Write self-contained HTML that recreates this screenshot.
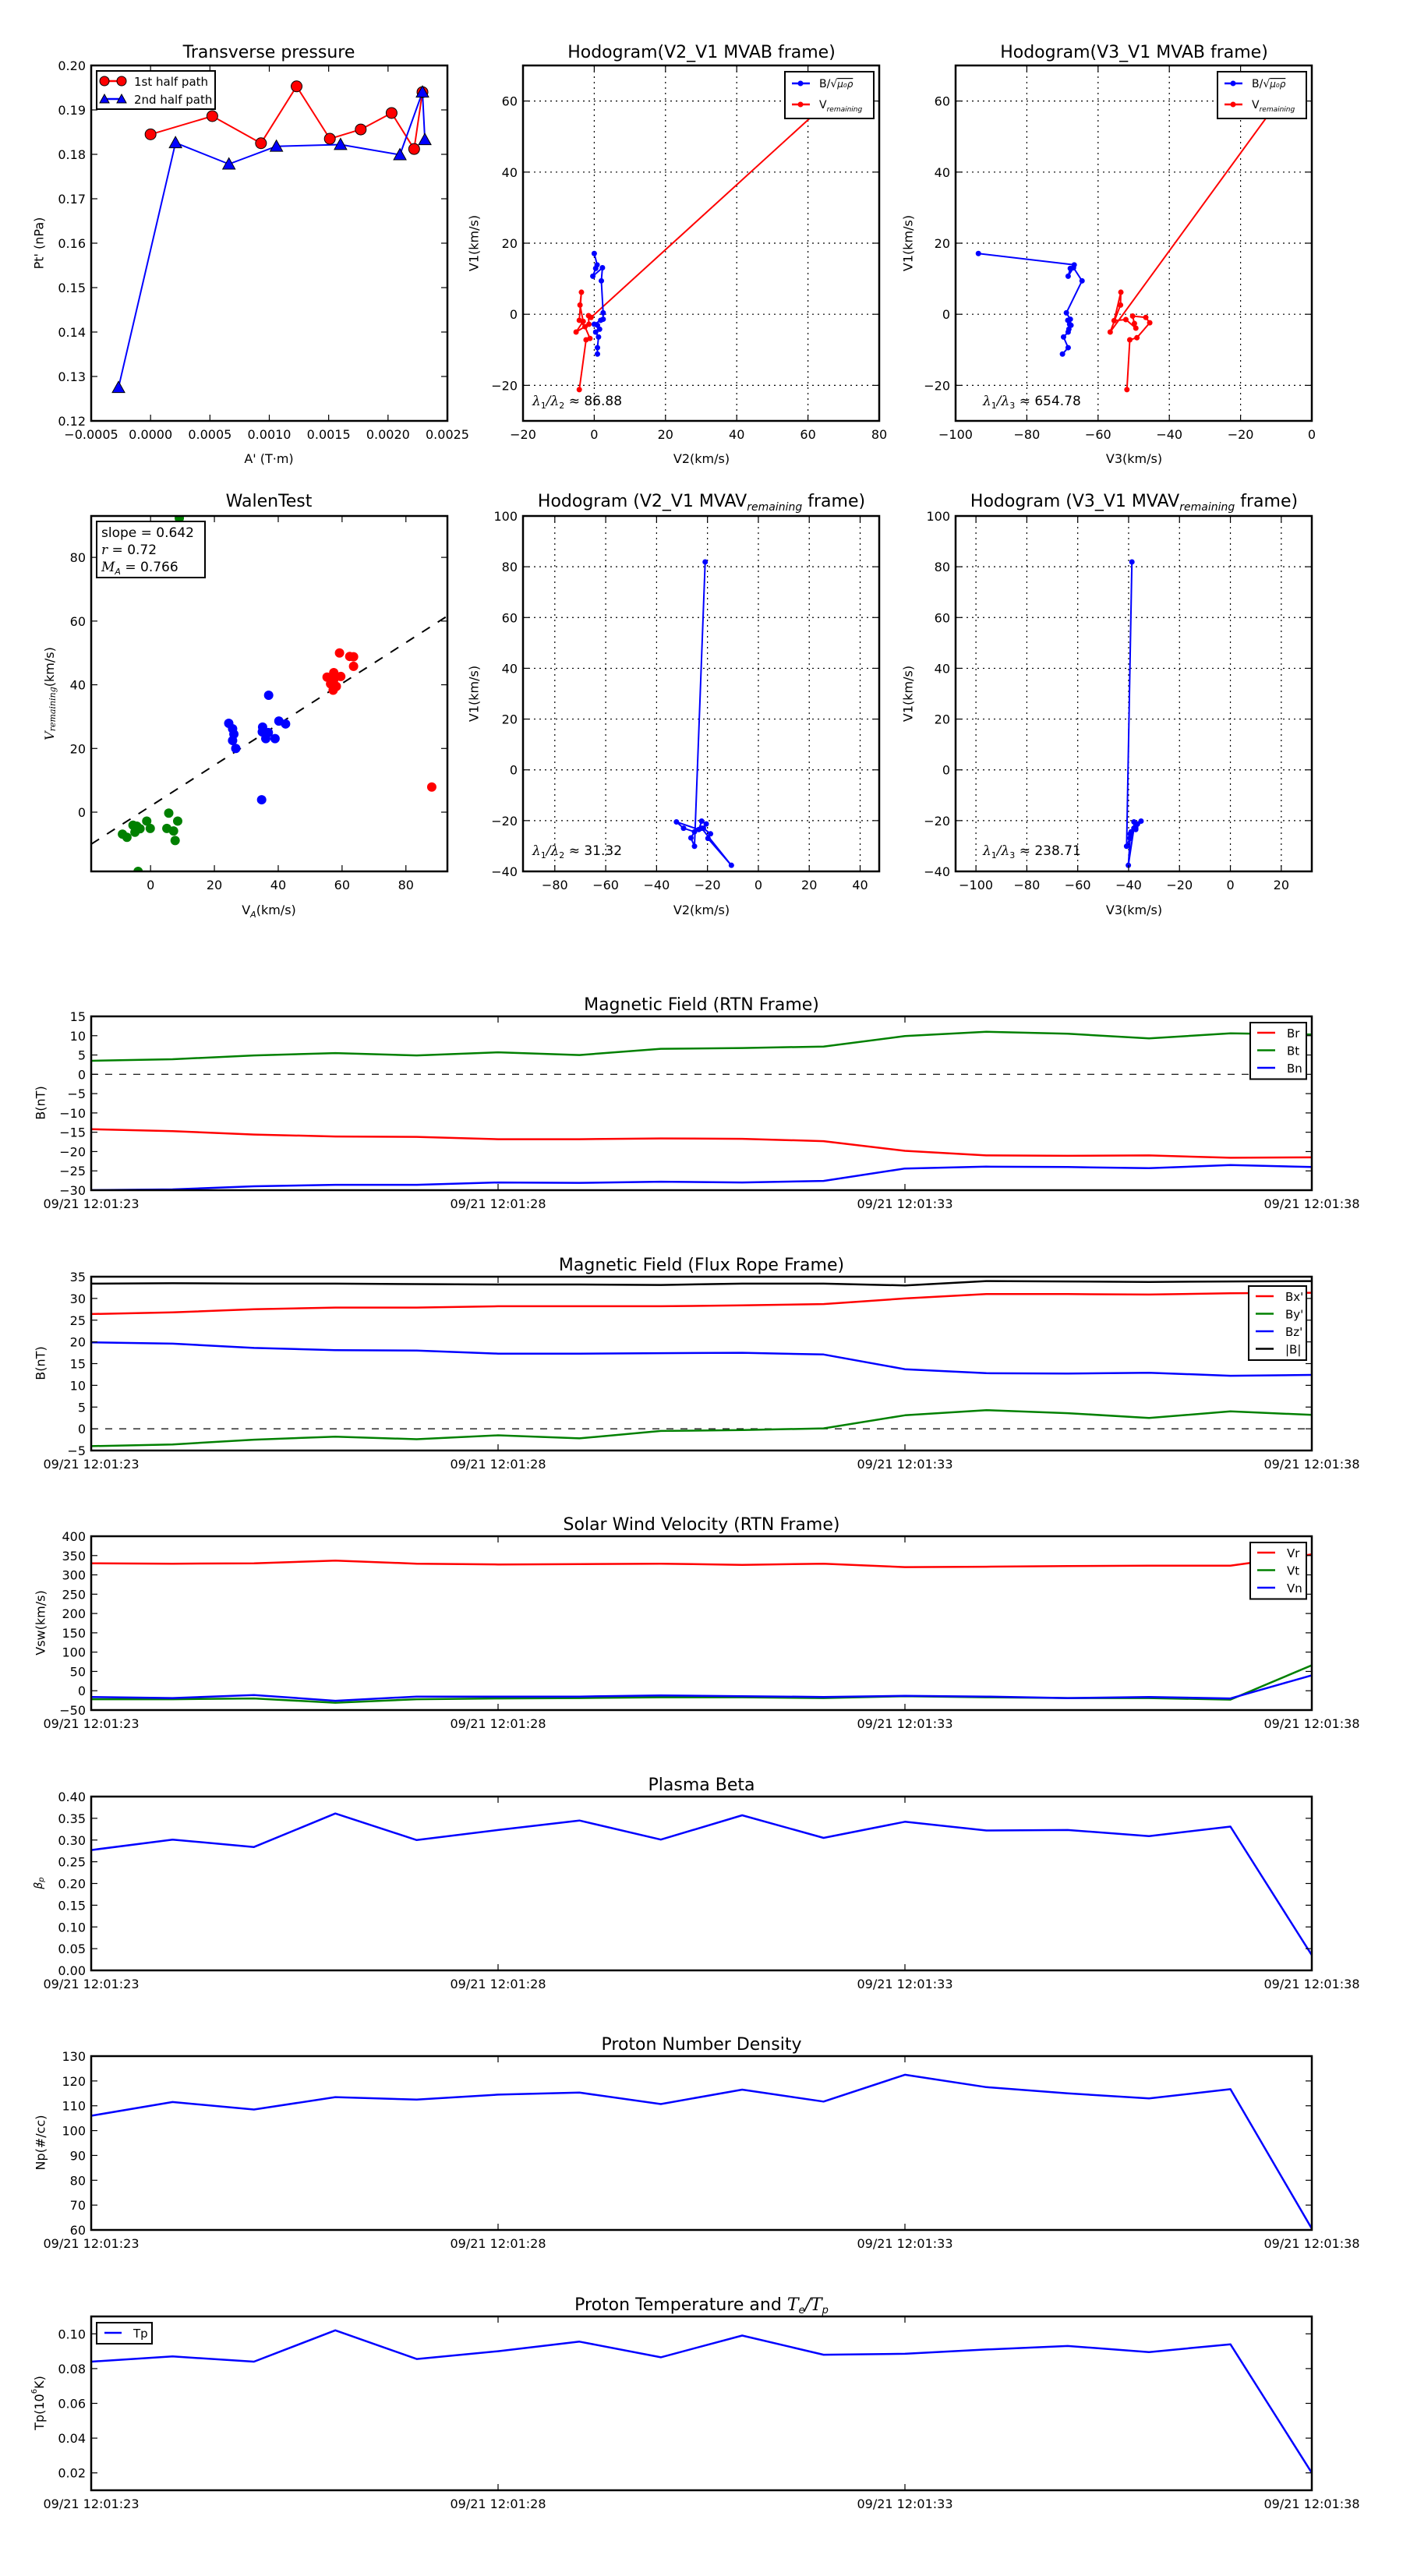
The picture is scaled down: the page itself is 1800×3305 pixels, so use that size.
<!DOCTYPE html>
<html><head><meta charset="utf-8">
<style>
html,body{margin:0;padding:0;background:#fff;}
svg text{font-family:"DejaVu Sans","Liberation Sans",sans-serif;fill:#000;}
</style></head>
<body>
<svg id="fig" width="1800" height="3300" viewBox="0 0 1800 3300" xmlns="http://www.w3.org/2000/svg">
<rect x="0" y="0" width="1800" height="3300" fill="#fff"/>
</svg>
<script>
// ---------- data ----------
// Transverse pressure
const tp1A  = [0.0, 0.00052, 0.00093, 0.00123, 0.00151, 0.00177, 0.00203, 0.00222, 0.00229];
const tp1Pt = [0.1845, 0.1886, 0.1825, 0.1953, 0.1835, 0.1856, 0.1893, 0.1812, 0.1940];
const tp2A  = [-0.00027, 0.00021, 0.00066, 0.00106, 0.00160, 0.00210, 0.00229, 0.00231];
const tp2Pt = [0.1275, 0.1826, 0.1778, 0.1818, 0.1822, 0.1799, 0.1940, 0.1833];
// Hodogram MVAB (B/sqrt(mu0 rho))
const hbV1 = [17.1, 13.9, 12.9, 10.7, 13.1, 9.4, 0.4, -1.4, -1.7, -2.8, -3.1, -4.2, -5.0, -6.4, -9.4, -11.2];
const hbV2 = [0.0, 0.8, 0.4, -0.4, 2.3, 2.0, 2.5, 2.5, 1.8, 0.0, 0.9, 1.5, 0.4, 1.2, 0.9, 0.9];
const hbV3 = [-93.6, -66.7, -67.8, -68.4, -66.9, -64.5, -68.9, -67.8, -68.5, -68.0, -67.6, -68.2, -68.4, -69.7, -68.4, -70.0];
// Hodogram MVAB (V remaining)
const hvV1a = [-21.2, -7.2, -6.8, -3.5, -1.7, 6.2, 2.6, -2.0, -5.0, -2.8, -0.4, -0.9, 62];
const hvV2  = [-4.2, -2.3, -1.2, -2.6, -4.2, -3.6, -4.0, -3.1, -5.1, -1.5, -1.6, -0.9, 68];
const hvV1b = [-21.2, -7.2, -6.6, -2.4, -0.9, -0.5, -2.6, -3.9, -1.5, -1.8, 6.2, 2.6, -5.0, 66];
const hvV3  = [-51.9, -51.1, -49.1, -45.5, -46.6, -50.3, -49.8, -49.4, -52.2, -55.5, -53.6, -53.7, -56.6, -5];
// Walen test
const wGx = [9.0, -8.8, -7.4, -5.5, -4.3, -4.9, -3.3, -1.2, -0.1, 5.7, 5.1, 7.2, 8.5, 7.7, -3.9];
const wGy = [92.3, -6.9, -7.9, -4.1, -4.4, -6.3, -5.2, -2.8, -5.1, -0.3, -5.1, -5.9, -2.8, -8.9, -18.6];
const wBx = [37.0, 24.5, 25.7, 26.1, 25.7, 26.7, 35.1, 35.0, 36.9, 36.1, 39.0, 40.2, 42.3, 34.8];
const wBy = [36.7, 27.9, 26.2, 24.5, 22.5, 20.0, 26.7, 25.2, 25.0, 23.1, 23.1, 28.6, 27.7, 3.9];
const wRx = [59.2, 62.4, 63.6, 63.6, 55.3, 57.4, 59.6, 56.4, 57.4, 58.2, 57.2, 88.1];
const wRy = [50.0, 48.9, 48.8, 45.8, 42.4, 43.8, 42.6, 40.3, 41.6, 39.5, 38.3, 7.9];
const walenSlope = 0.642;
const walenIntercept = 1.9;
// Hodogram MVAV remaining
const hrV1 = [81.9, -30.1, -26.8, -24.4, -23.0, -20.5, -23.5, -20.2, -21.3, -23.0, -25.2, -27.0, -37.6, -23.0];
const hrV2 = [-20.9, -25.1, -26.5, -25.1, -29.4, -32.2, -23.4, -22.3, -20.5, -21.6, -18.8, -19.8, -10.6, -22.3];
const hrV3 = [-38.7, -40.8, -39.4, -39.0, -37.9, -37.9, -37.2, -35.1, -36.5, -37.2, -39.4, -39.4, -40.1, -37.9];
// Time series
const tSec = [0,1,2,3,4,5,6,7,8,9,10,11,12,13,14,15];
const timeTickSec = [0,5,10,15];
const timeTickLabels = ['09/21 12:01:23','09/21 12:01:28','09/21 12:01:33','09/21 12:01:38'];
const Br = [-14.2,-14.7,-15.6,-16.1,-16.2,-16.8,-16.8,-16.6,-16.7,-17.3,-19.8,-21.0,-21.1,-21.0,-21.6,-21.5];
const Bt = [3.5,3.9,4.9,5.5,4.9,5.7,5.0,6.6,6.8,7.2,9.9,11.0,10.5,9.3,10.6,10.3];
const Bn = [-30.0,-29.8,-29.0,-28.6,-28.6,-28.0,-28.1,-27.8,-28.0,-27.6,-24.4,-23.9,-24.0,-24.3,-23.5,-24.0];
const Bmag = [33.4,33.5,33.4,33.4,33.3,33.2,33.2,33.1,33.4,33.4,33.0,34.0,33.9,33.8,33.9,34.0];
const Bxp = [26.4,26.8,27.5,27.9,27.9,28.2,28.2,28.2,28.4,28.7,30.0,31.0,31.0,30.9,31.2,31.3];
const Byp = [-4.0,-3.6,-2.5,-1.8,-2.4,-1.5,-2.2,-0.5,-0.3,0.1,3.1,4.3,3.6,2.5,4.0,3.2];
const Bzp = [19.9,19.6,18.6,18.1,18.0,17.3,17.3,17.4,17.5,17.1,13.7,12.8,12.7,12.9,12.2,12.4];
const Vr = [330,329,330,337,329,327,328,329,326,329,320,321,323,324,324,353];
const Vt = [-22,-22,-20,-31,-22,-20,-19,-17,-17,-19,-14,-17,-19,-19,-23,66];
const Vn = [-16,-19,-11,-26,-15,-15,-15,-12,-14,-16,-13,-15,-19,-16,-20,40];
const beta = [0.277,0.301,0.284,0.361,0.300,0.323,0.345,0.301,0.357,0.305,0.342,0.322,0.323,0.309,0.331,0.035];
const Np = [106,111.5,108.5,113.5,112.5,114.5,115.3,110.7,116.5,111.7,122.5,117.5,115,113,116.7,60.5];
const Tp = [0.084,0.087,0.084,0.102,0.0855,0.090,0.0955,0.0865,0.099,0.088,0.0885,0.091,0.093,0.0895,0.094,0.020];

// ---------- helpers ----------
const NS = 'http://www.w3.org/2000/svg';
const svg = document.getElementById('fig');
let clipN = 0;
function mk(tag, attrs, parent) {
  const e = document.createElementNS(NS, tag);
  for (const k in attrs) e.setAttribute(k, attrs[k]);
  (parent || svg).appendChild(e);
  return e;
}
function txt(parent, x, y, s, size, anchor, nm) {
  const t = mk('text', {x: x, y: y, 'font-size': size, 'text-anchor': anchor || 'middle'}, parent);
  t.textContent = s;
  
  
  return t;
}
function fmtMinus(s) { return String(s).replace('-', '\u2212'); }
function range(a, b, st) { const r = []; for (let v = a; v <= b + st * 1e-6; v += st) r.push(Math.round(v / st) * st); return r; }

function axes(o) {
  const g = mk('g', {});
  
  
  const sx = v => o.L + (v - o.xmin) / (o.xmax - o.xmin) * (o.R - o.L);
  const sy = v => o.B - (v - o.ymin) / (o.ymax - o.ymin) * (o.B - o.T);
  const id = 'clip' + (clipN++);
  const cp = mk('clipPath', {id: id}, g);
  mk('rect', {x: o.L, y: o.T, width: o.R - o.L, height: o.B - o.T}, cp);
  const xt = o.xticks.filter(v => v >= o.xmin - 1e-9 && v <= o.xmax + 1e-9);
  const yt = o.yticks.filter(v => v >= o.ymin - 1e-9 && v <= o.ymax + 1e-9);
  if (o.grid) {
    xt.forEach(v => { const l = mk('line', {x1: sx(v), x2: sx(v), y1: o.T, y2: o.B, stroke: '#000', 'stroke-width': 1.2, 'stroke-dasharray': '2,5'}, g);
        });
    yt.forEach(v => { const l = mk('line', {x1: o.L, x2: o.R, y1: sy(v), y2: sy(v), stroke: '#000', 'stroke-width': 1.2, 'stroke-dasharray': '2,5'}, g);
        });
  }
  const body = mk('g', {'clip-path': 'url(#' + id + ')'}, g);
  
  
  xt.forEach((v, i) => {
    mk('line', {x1: sx(v), x2: sx(v), y1: o.B, y2: o.B - 8, stroke: '#000', 'stroke-width': 1.2}, g);
    mk('line', {x1: sx(v), x2: sx(v), y1: o.T, y2: o.T + 8, stroke: '#000', 'stroke-width': 1.2}, g);
    const lab = o.xlabels ? o.xlabels[i] : o.xfmt(v);
    txt(g, sx(v), o.B + 23, lab, 16, 'middle', 'x-tick-label');
  });
  yt.forEach(v => {
    mk('line', {x1: o.L, x2: o.L + 8, y1: sy(v), y2: sy(v), stroke: '#000', 'stroke-width': 1.2}, g);
    mk('line', {x1: o.R, x2: o.R - 8, y1: sy(v), y2: sy(v), stroke: '#000', 'stroke-width': 1.2}, g);
    txt(g, o.L - 7, sy(v) + 6, o.yfmt(v), 16, 'end', 'y-tick-label');
  });
  return {sx: sx, sy: sy, g: g, body: body, o: o,
    finish: function () {
      const f = mk('rect', {x: o.L, y: o.T, width: o.R - o.L, height: o.B - o.T, fill: 'none', stroke: '#000', 'stroke-width': 2.5}, g);
      
      
    }};
}
function polyline(ax, xs, ys, color, w, nm) {
  const pts = xs.map((x, i) => ax.sx(x).toFixed(1) + ',' + ax.sy(ys[i]).toFixed(1)).join(' ');
  const p = mk('polyline', {points: pts, fill: 'none', stroke: color, 'stroke-width': w, 'stroke-linejoin': 'round'}, ax.body);
  
  
  return p;
}
function dots(ax, xs, ys, color, r, nm, strokeC) {
  xs.forEach((x, i) => {
    const c = mk('circle', {cx: ax.sx(x), cy: ax.sy(ys[i]), r: r, fill: color, stroke: strokeC || 'none', 'stroke-width': 1}, ax.body);
    
    
  });
}
function tris(ax, xs, ys, color, s, nm) {
  xs.forEach((x, i) => {
    const cx = ax.sx(x), cy = ax.sy(ys[i]);
    const p = mk('polygon', {points: (cx) + ',' + (cy - s) + ' ' + (cx - s) + ',' + (cy + s * 0.8) + ' ' + (cx + s) + ',' + (cy + s * 0.8), fill: color, stroke: '#000', 'stroke-width': 1}, ax.body);
    
    
  });
}
function title(x, y, parts, nm) {
  const t = mk('text', {x: x, y: y, 'font-size': 22, 'text-anchor': 'middle'});
  
  
  parts.forEach(p => {
    const s = mk('tspan', p.sub ? {'font-size': 14, 'font-style': 'italic', dy: 5} : (p.after ? {dy: -5} : {}), t);
    s.textContent = p.t;
  });
  return t;
}
function ylabel(x, y, s, nm) {
  const t = mk('text', {x: x, y: y, 'font-size': 16, 'text-anchor': 'middle', transform: 'rotate(-90 ' + x + ' ' + y + ')', 'dominant-baseline': 'central'});
  t.textContent = s;
  
  
  return t;
}
function box(x, y, w, h, nm) {
  const r = mk('rect', {x: x, y: y, width: w, height: h, fill: '#fff', stroke: '#000', 'stroke-width': 2});
  
  
}
function legLine(x1, x2, y, color, nm) {
  const l = mk('line', {x1: x1, x2: x2, y1: y, y2: y, stroke: color, 'stroke-width': 2.5});
  
  
}
function ratioText(x, y, a, b, val, nm) {
  const t = mk('text', {x: x, y: y, 'font-size': 17, 'text-anchor': 'start'});
  
  
  const s1 = mk('tspan', {'font-style': 'italic', 'font-family': 'DejaVu Serif, serif'}, t); s1.textContent = '\u03bb';
  const s2 = mk('tspan', {'font-size': 11, dy: 4}, t); s2.textContent = a;
  const s3 = mk('tspan', {'font-style': 'italic', dy: -4, 'font-family': 'DejaVu Serif, serif'}, t); s3.textContent = '/\u03bb';
  const s4 = mk('tspan', {'font-size': 11, dy: 4}, t); s4.textContent = b;
  const s5 = mk('tspan', {dy: -4}, t); s5.textContent = ' \u2248 ' + val;
}
const f2 = v => fmtMinus(v.toFixed(2));
const f0 = v => fmtMinus(v.toFixed(0));

// ---------- Row 1 ----------
const axTP = axes({name: 'transverse-pressure-chart', L: 117, R: 574, T: 84, B: 540, xmin: -0.0005, xmax: 0.0025, ymin: 0.12, ymax: 0.20,
  xticks: range(-0.0005, 0.0025, 0.0005), yticks: range(0.12, 0.20, 0.01), xfmt: v => fmtMinus(v.toFixed(4)), yfmt: f2});
polyline(axTP, tp1A, tp1Pt, '#f00', 2, 'first-half-path-line');
polyline(axTP, tp2A, tp2Pt, '#00f', 2, 'second-half-path-line');
dots(axTP, tp1A, tp1Pt, '#f00', 7, 'first-half-path-point', '#000');
tris(axTP, tp2A, tp2Pt, '#00f', 8, 'second-half-path-point');
axTP.finish();
title(345, 74, [{t: 'Transverse pressure'}], 'transverse-pressure-title');
txt(svg, 345, 594, "A' (T\u00b7m)", 16, 'middle', 'x-axis-title');
ylabel(50, 312, "Pt' (nPa)", 'y-axis-title');
box(124, 91, 152, 49, 'pressure-legend');
legLine(134, 156, 104, '#f00', 'legend-line-first');
mk('circle', {cx: 134, cy: 104, r: 6, fill: '#f00', stroke: '#000'}); mk('circle', {cx: 156, cy: 104, r: 6, fill: '#f00', stroke: '#000'});
legLine(134, 156, 127, '#00f', 'legend-line-second');
mk('polygon', {points: '134,121 128,132 140,132', fill: '#00f', stroke: '#000'}); mk('polygon', {points: '156,121 150,132 162,132', fill: '#00f', stroke: '#000'});
txt(svg, 172, 110, '1st half path', 15, 'start', 'legend-entry-first');
txt(svg, 172, 133, '2nd half path', 15, 'start', 'legend-entry-second');

function hodoLegend(x, nm) {
  box(x, 92, 114, 60, nm);
  legLine(x + 9, x + 32, 107, '#00f', 'legend-line-b');
  mk('circle', {cx: x + 20, cy: 107, r: 3.5, fill: '#00f'});
  legLine(x + 9, x + 32, 134, '#f00', 'legend-line-v');
  mk('circle', {cx: x + 20, cy: 134, r: 3.5, fill: '#f00'});
  const t1 = mk('text', {x: x + 44, y: 112, 'font-size': 14});  
  const a = mk('tspan', {}, t1); a.textContent = 'B/\u221a';
  const b = mk('tspan', {'text-decoration': 'overline', 'font-style': 'italic', 'font-size': 12}, t1); b.textContent = '\u03bc\u2080\u03c1';
  const t2 = mk('text', {x: x + 44, y: 139, 'font-size': 14});  
  const c = mk('tspan', {}, t2); c.textContent = 'V';
  const d = mk('tspan', {'font-size': 9, 'font-style': 'italic', dy: 4}, t2); d.textContent = 'remaining';
}
const axH2 = axes({name: 'hodogram-v2-v1-mvab', L: 671, R: 1128, T: 84, B: 540, xmin: -20, xmax: 80, ymin: -30, ymax: 70,
  xticks: range(-20, 80, 20), yticks: range(-20, 60, 20), xfmt: f0, yfmt: f0, grid: true});
polyline(axH2, hvV2, hvV1a, '#f00', 2, 'v-remaining-path');
dots(axH2, hvV2, hvV1a, '#f00', 3.5, 'v-remaining-point');
polyline(axH2, hbV2, hbV1, '#00f', 2, 'b-alfven-path');
dots(axH2, hbV2, hbV1, '#00f', 3.5, 'b-alfven-point');
hodoLegend(1007, 'hodogram-v2-legend');
axH2.finish();
ratioText(683, 520, '1', '2', '86.88', 'eigenvalue-ratio-v2');
title(900, 74, [{t: 'Hodogram(V2_V1 MVAB frame)'}], 'hodogram-v2-title');
txt(svg, 900, 594, 'V2(km/s)', 16, 'middle', 'x-axis-title');
ylabel(608, 312, 'V1(km/s)', 'y-axis-title');

const axH3 = axes({name: 'hodogram-v3-v1-mvab', L: 1226, R: 1683, T: 84, B: 540, xmin: -100, xmax: 0, ymin: -30, ymax: 70,
  xticks: range(-100, 0, 20), yticks: range(-20, 60, 20), xfmt: f0, yfmt: f0, grid: true});
polyline(axH3, hvV3, hvV1b, '#f00', 2, 'v-remaining-path');
dots(axH3, hvV3, hvV1b, '#f00', 3.5, 'v-remaining-point');
polyline(axH3, hbV3, hbV1, '#00f', 2, 'b-alfven-path');
dots(axH3, hbV3, hbV1, '#00f', 3.5, 'b-alfven-point');
hodoLegend(1562, 'hodogram-v3-legend');
axH3.finish();
ratioText(1261, 520, '1', '3', '654.78', 'eigenvalue-ratio-v3');
title(1455, 74, [{t: 'Hodogram(V3_V1 MVAB frame)'}], 'hodogram-v3-title');
txt(svg, 1455, 594, 'V3(km/s)', 16, 'middle', 'x-axis-title');
ylabel(1165, 312, 'V1(km/s)', 'y-axis-title');

// ---------- Row 2 ----------
const axW = axes({name: 'walen-test-chart', L: 117, R: 574, T: 662, B: 1118, xmin: -18.6, xmax: 93, ymin: -18.6, ymax: 93,
  xticks: range(0, 80, 20), yticks: range(0, 80, 20), xfmt: f0, yfmt: f0});
{
  const l = mk('line', {x1: axW.sx(-18.6), y1: axW.sy(walenSlope * -18.6 + walenIntercept), x2: axW.sx(93), y2: axW.sy(walenSlope * 93 + walenIntercept), stroke: '#000', 'stroke-width': 2, 'stroke-dasharray': '12,12'}, axW.body);
  
  
}
dots(axW, wGx, wGy, '#008000', 6, 'walen-point-green');
dots(axW, wBx, wBy, '#00f', 6, 'walen-point-blue');
dots(axW, wRx, wRy, '#f00', 6, 'walen-point-red');
box(124, 669, 139, 72, 'walen-stats-box');
txt(svg, 130, 689, 'slope = 0.642', 17, 'start', 'walen-slope');
{
  const t = mk('text', {x: 130, y: 711, 'font-size': 17});  
  const a = mk('tspan', {'font-style': 'italic', 'font-family': 'DejaVu Serif, serif'}, t); a.textContent = 'r';
  const b = mk('tspan', {}, t); b.textContent = ' = 0.72';
  const t2 = mk('text', {x: 130, y: 733, 'font-size': 17});  
  const c = mk('tspan', {'font-style': 'italic', 'font-family': 'DejaVu Serif, serif'}, t2); c.textContent = 'M';
  const d = mk('tspan', {'font-style': 'italic', 'font-size': 11, dy: 4}, t2); d.textContent = 'A';
  const e = mk('tspan', {dy: -4}, t2); e.textContent = ' = 0.766';
}
axW.finish();
title(345, 650, [{t: 'WalenTest'}], 'walen-title');
{
  const t = mk('text', {x: 345, y: 1173, 'font-size': 16, 'text-anchor': 'middle'});  
  const a = mk('tspan', {}, t); a.textContent = 'V';
  const b = mk('tspan', {'font-size': 11, 'font-style': 'italic', dy: 4}, t); b.textContent = 'A';
  const c = mk('tspan', {dy: -4}, t); c.textContent = '(km/s)';
  const y = mk('text', {x: 63, y: 890, 'font-size': 16, 'text-anchor': 'middle', transform: 'rotate(-90 63 890)', 'dominant-baseline': 'central'});  
  const d = mk('tspan', {'font-style': 'italic', 'font-family': 'DejaVu Serif, serif'}, y); d.textContent = 'V';
  const e = mk('tspan', {'font-size': 11, 'font-style': 'italic', 'font-family': 'DejaVu Serif, serif', dy: 4}, y); e.textContent = 'remaining';
  const f = mk('tspan', {dy: -4}, y); f.textContent = '(km/s)';
}

const axR2 = axes({name: 'hodogram-v2-v1-mvav', L: 671, R: 1128, T: 662, B: 1118, xmin: -92.5, xmax: 47.5, ymin: -40, ymax: 100,
  xticks: range(-80, 40, 20), yticks: range(-40, 100, 20), xfmt: f0, yfmt: f0, grid: true});
polyline(axR2, hrV2, hrV1, '#00f', 2, 'b-alfven-path');
dots(axR2, hrV2, hrV1, '#00f', 3.5, 'b-alfven-point');
axR2.finish();
ratioText(683, 1097, '1', '2', '31.32', 'eigenvalue-ratio-v2');
title(900, 650, [{t: 'Hodogram (V2_V1 MVAV'}, {t: 'remaining', sub: true}, {t: ' frame)', after: true}], 'hodogram-mvav-v2-title');
txt(svg, 900, 1173, 'V2(km/s)', 16, 'middle', 'x-axis-title');
ylabel(608, 890, 'V1(km/s)', 'y-axis-title');

const axR3 = axes({name: 'hodogram-v3-v1-mvav', L: 1226, R: 1683, T: 662, B: 1118, xmin: -108, xmax: 32, ymin: -40, ymax: 100,
  xticks: range(-100, 20, 20), yticks: range(-40, 100, 20), xfmt: f0, yfmt: f0, grid: true});
polyline(axR3, hrV3, hrV1, '#00f', 2, 'b-alfven-path');
dots(axR3, hrV3, hrV1, '#00f', 3.5, 'b-alfven-point');
axR3.finish();
ratioText(1261, 1097, '1', '3', '238.71', 'eigenvalue-ratio-v3');
title(1455, 650, [{t: 'Hodogram (V3_V1 MVAV'}, {t: 'remaining', sub: true}, {t: ' frame)', after: true}], 'hodogram-mvav-v3-title');
txt(svg, 1455, 1173, 'V3(km/s)', 16, 'middle', 'x-axis-title');
ylabel(1165, 890, 'V1(km/s)', 'y-axis-title');

// ---------- Time series ----------
function tsAxes(nm, T, ymin, ymax, yticks, yfmt) {
  return axes({name: nm, L: 117, R: 1683, T: T, B: T + 223, xmin: 0, xmax: 15, ymin: ymin, ymax: ymax,
    xticks: timeTickSec, xlabels: timeTickLabels, yticks: yticks, yfmt: yfmt});
}
function zeroLine(ax) {
  const l = mk('line', {x1: ax.o.L, x2: ax.o.R, y1: ax.sy(0), y2: ax.sy(0), stroke: '#000', 'stroke-width': 1.2, 'stroke-dasharray': '9,9'}, ax.body);
  
  
}
function tsLegend(x, y, w, entries, nm) {
  box(x, y, w, entries.length * 22.5 + 5, nm);
  entries.forEach((e, i) => {
    const yy = y + 13 + i * 22.5;
    legLine(x + 9, x + 32, yy, e[1], 'legend-line-' + e[0]);
    txt(svg, x + 47, yy + 6, e[0], 15, 'start', 'legend-entry');
  });
}
const axB = tsAxes('magnetic-field-rtn-chart', 1304, -30, 15, range(-30, 15, 5), f0);
zeroLine(axB);
polyline(axB, tSec, Br, '#f00', 2.5, 'br-line');
polyline(axB, tSec, Bt, '#008000', 2.5, 'bt-line');
polyline(axB, tSec, Bn, '#00f', 2.5, 'bn-line');
tsLegend(1604, 1312, 72, [['Br', '#f00'], ['Bt', '#008000'], ['Bn', '#00f']], 'rtn-legend');
axB.finish();
title(900, 1296, [{t: 'Magnetic Field (RTN Frame)'}], 'magnetic-field-rtn-title');
ylabel(52, 1415, 'B(nT)', 'y-axis-title');

const axF = tsAxes('magnetic-field-flux-rope-chart', 1638, -5, 35, range(-5, 35, 5), f0);
zeroLine(axF);
polyline(axF, tSec, Bxp, '#f00', 2.5, 'bx-line');
polyline(axF, tSec, Byp, '#008000', 2.5, 'by-line');
polyline(axF, tSec, Bzp, '#00f', 2.5, 'bz-line');
polyline(axF, tSec, Bmag, '#000', 2.5, 'bmag-line');
tsLegend(1602, 1650, 74, [["Bx'", '#f00'], ["By'", '#008000'], ["Bz'", '#00f'], ['|B|', '#000']], 'flux-rope-legend');
axF.finish();
title(900, 1630, [{t: 'Magnetic Field (Flux Rope Frame)'}], 'magnetic-field-flux-rope-title');
ylabel(52, 1749, 'B(nT)', 'y-axis-title');

const axV = tsAxes('solar-wind-velocity-chart', 1971, -50, 400, range(-50, 400, 50), f0);
polyline(axV, tSec, Vr, '#f00', 2.5, 'vr-line');
polyline(axV, tSec, Vt, '#008000', 2.5, 'vt-line');
polyline(axV, tSec, Vn, '#00f', 2.5, 'vn-line');
tsLegend(1604, 1979, 72, [['Vr', '#f00'], ['Vt', '#008000'], ['Vn', '#00f']], 'velocity-legend');
axV.finish();
title(900, 1963, [{t: 'Solar Wind Velocity (RTN Frame)'}], 'solar-wind-velocity-title');
ylabel(52, 2082, 'Vsw(km/s)', 'y-axis-title');

const axBeta = tsAxes('plasma-beta-chart', 2305, 0, 0.40, range(0, 0.40, 0.05), f2);
polyline(axBeta, tSec, beta, '#00f', 2.5, 'beta-line');
axBeta.finish();
title(900, 2297, [{t: 'Plasma Beta'}], 'plasma-beta-title');
{
  const y = mk('text', {x: 50, y: 2416, 'font-size': 14, 'text-anchor': 'middle', transform: 'rotate(-90 50 2416)', 'dominant-baseline': 'central', 'font-style': 'italic', 'font-family': 'DejaVu Serif, serif'});
  
  
  const a = mk('tspan', {}, y); a.textContent = '\u03b2';
  const b = mk('tspan', {'font-size': 10, dy: 3}, y); b.textContent = 'p';
}

const axN = tsAxes('proton-density-chart', 2638, 60, 130, range(60, 130, 10), f0);
polyline(axN, tSec, Np, '#00f', 2.5, 'np-line');
axN.finish();
title(900, 2630, [{t: 'Proton Number Density'}], 'proton-density-title');
ylabel(52, 2749, 'Np(#/cc)', 'y-axis-title');

const axT = tsAxes('proton-temperature-chart', 2972, 0.01, 0.11, range(0.02, 0.10, 0.02), f2);
polyline(axT, tSec, Tp, '#00f', 2.5, 'tp-line');
box(124, 2980, 71, 27, 'tp-legend');
legLine(134, 156, 2993, '#00f', 'legend-line-tp');
txt(svg, 171, 2999, 'Tp', 15, 'start', 'legend-entry');
axT.finish();
{
  const t = mk('text', {x: 900, y: 2964, 'font-size': 22, 'text-anchor': 'middle'});  
  const a = mk('tspan', {}, t); a.textContent = 'Proton Temperature and ';
  const b = mk('tspan', {'font-style': 'italic', 'font-family': 'DejaVu Serif, serif'}, t); b.textContent = 'T';
  const c = mk('tspan', {'font-size': 13, 'font-style': 'italic', dy: 4}, t); c.textContent = 'e';
  const d = mk('tspan', {'font-style': 'italic', dy: -4, 'font-family': 'DejaVu Serif, serif'}, t); d.textContent = '/T';
  const e = mk('tspan', {'font-size': 13, 'font-style': 'italic', dy: 4}, t); e.textContent = 'p';
  const y = mk('text', {x: 50, y: 3083, 'font-size': 16, 'text-anchor': 'middle', transform: 'rotate(-90 50 3083)', 'dominant-baseline': 'central'});  
  const f = mk('tspan', {}, y); f.textContent = 'Tp(10';
  const g = mk('tspan', {'font-size': 10, dy: -6}, y); g.textContent = '6';
  const h = mk('tspan', {dy: 6}, y); h.textContent = 'K)';
}
</script>
</body></html>
